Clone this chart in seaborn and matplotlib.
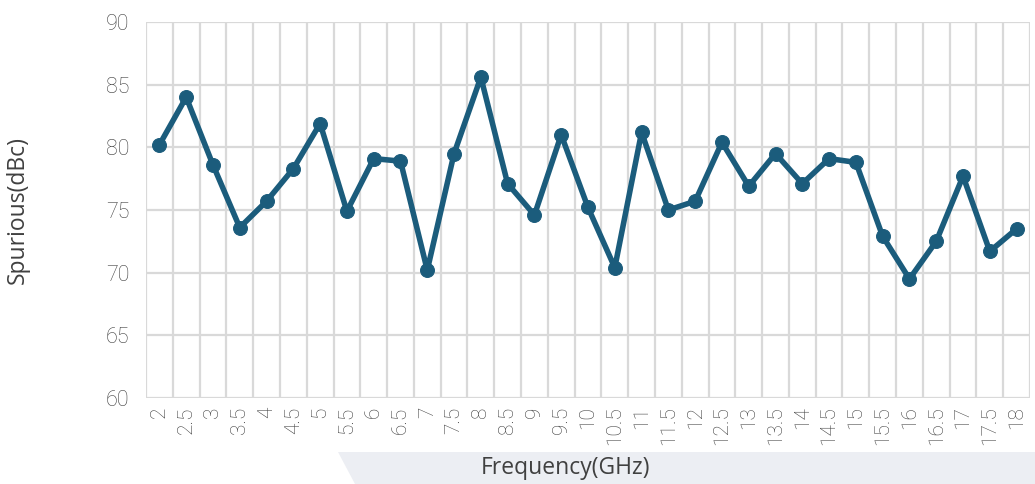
import numpy as np
import pandas as pd
import matplotlib
matplotlib.use("Agg")
import matplotlib.pyplot as plt
from matplotlib.patches import Polygon
import seaborn as sns

# data
freq_labels = ["2", "2.5", "3", "3.5", "4", "4.5", "5", "5.5", "6", "6.5", "7",
               "7.5", "8", "8.5", "9", "9.5", "10", "10.5", "11", "11.5", "12",
               "12.5", "13", "13.5", "14", "14.5", "15", "15.5", "16", "16.5",
               "17", "17.5", "18"]
spurious = [80.2, 84.0, 78.6, 73.6, 75.7, 78.3, 81.9, 74.9, 79.1, 78.9, 70.2,
            79.5, 85.6, 77.1, 74.6, 81.0, 75.2, 70.4, 81.2, 75.0, 75.7,
            80.4, 76.9, 79.5, 77.1, 79.1, 78.8, 72.9, 69.5, 72.5,
            77.7, 71.7, 73.5]
y_ticks = [60, 65, 70, 75, 80, 85, 90]

df = pd.DataFrame({"freq": freq_labels, "spurious": spurious})

sns.set_theme(style="white")
plt.rcParams["font.family"] = ["Roboto", "DejaVu Sans"]

LINE = "#1b5c7c"
GRID = "#d9d9d9"
TXT = "#3f3f3f"

fig = plt.figure(figsize=(10.35, 4.84), dpi=100)
ax = fig.add_axes([146 / 1035, 1 - 398 / 484, 884 / 1035, 376 / 484])

# light band behind the x label
band = Polygon([(338 / 1035, 1 - 452 / 484), (1.0, 1 - 452 / 484),
                (1.0, 0.0), (355 / 1035, 0.0)],
               closed=True, transform=fig.transFigure, facecolor="#eceef3",
               edgecolor="none", zorder=0)
fig.add_artist(band)

sns.lineplot(data=df, x="freq", y="spurious", ax=ax, color=LINE, linewidth=4,
             marker="o", markersize=10, markeredgecolor=LINE, sort=False, zorder=3)

n = len(freq_labels)
ax.set_xlim(-0.5, n - 0.5)
ax.set_ylim(60, 90)
ax.set_yticks(y_ticks)
ax.set_xticks(np.arange(-0.5, n, 1), minor=True)
ax.grid(False)
ax.grid(True, axis="y", which="major", color=GRID, linewidth=1.6)
ax.grid(True, axis="x", which="minor", color=GRID, linewidth=1.6)
for s in ax.spines.values():
    s.set_visible(False)

ax.tick_params(axis="both", which="both", length=0)
ax.tick_params(axis="y", pad=12, labelsize=15.5, labelcolor=TXT)
ax.tick_params(axis="x", pad=6, labelsize=15, labelcolor=TXT)
plt.setp(ax.get_xticklabels(), rotation=90, fontweight="light")
plt.setp(ax.get_yticklabels(), fontweight="light")

ax.set_xlabel("Frequency(GHz)", fontsize=16.5, color="#404040", family="Open Sans")
ax.set_ylabel("Spurious(dBc)", fontsize=16.5, color="#404040", family="Open Sans")
ax.xaxis.set_label_coords(0.474, -0.155)
ax.yaxis.set_label_coords(-0.131, 0.5)

fig.savefig("out.png", dpi=100)
